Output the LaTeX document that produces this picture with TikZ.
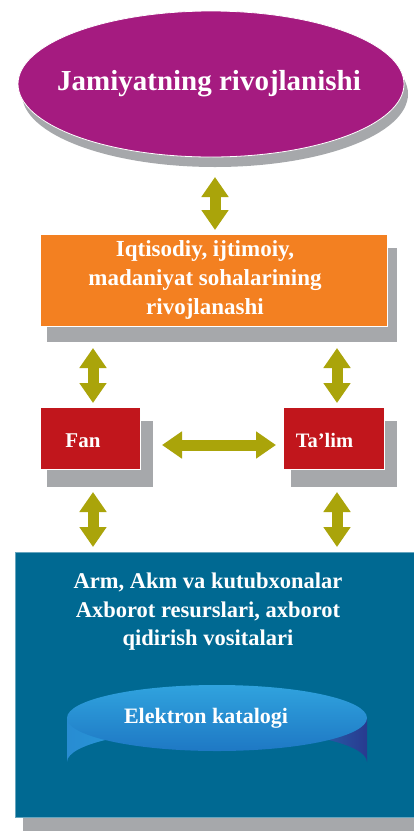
\documentclass[tikz,border=0pt]{standalone}
\usepackage{fontspec}
\setmainfont{Liberation Serif}
\usetikzlibrary{arrows.meta,shapes.geometric,calc}
\definecolor{magentaC}{RGB}{165,27,128}
\definecolor{orangeC}{RGB}{243,128,33}
\definecolor{redC}{RGB}{193,22,28}
\definecolor{blueC}{RGB}{0,105,146}
\definecolor{shadowC}{RGB}{166,168,171}
\definecolor{oliveC}{RGB}{170,164,10}
\definecolor{cylLeft}{RGB}{40,140,210}
\definecolor{cylMid}{RGB}{41,171,226}
\definecolor{cylRight}{RGB}{40,58,143}
\definecolor{cylTop}{RGB}{48,163,222}
\definecolor{cylTopB}{RGB}{30,120,196}
\tikzset{
  boxtext/.style={text=white, font=\bfseries, align=center, inner sep=0pt},
  flatbox/.style={draw=white, line width=0.6pt, minimum width=#1, inner sep=0pt},
  dbl/.style={draw=oliveC, line width=11pt,
    {Triangle[width=26pt,length=20pt]}-{Triangle[width=26pt,length=20pt]}},
}
\begin{document}
\begin{tikzpicture}[x=1pt,y=-1pt]
\useasboundingbox (0,0) rectangle (414,831);
\fill[white] (0,0) rectangle (414,831);
% top ellipse
\fill[shadowC] (215,94) ellipse [x radius=193, y radius=73];
\node[ellipse, fill=magentaC, draw=white, line width=0.8pt, minimum width=386pt, minimum height=146pt, inner sep=0pt] (top) at (211,84) {};
\node[boxtext, font=\bfseries\fontsize{29}{32}\selectfont] (toptext) at (209,84) {Jamiyatning rivojlanishi};
% orange box
\fill[shadowC] (47,248) rectangle (397,342);
\node[flatbox=347pt, fill=orangeC, minimum height=92pt] (mid) at (213.5,280) {};
\node[boxtext, font=\bfseries\fontsize{23}{29}\selectfont] (midtext) at (205,280) {Iqtisodiy, ijtimoiy,\\madaniyat sohalarining\\rivojlanashi};
% Fan / Ta'lim
\fill[shadowC] (47,421) rectangle (153,487);
\fill[shadowC] (291,421) rectangle (397,487);
\node[flatbox=100pt, fill=redC, minimum height=62pt] (fan) at (90,438) {};
\node[flatbox=101pt, fill=redC, minimum height=62pt] (talim) at (333.5,438) {};
\node[boxtext, font=\bfseries\fontsize{21}{24}\selectfont, anchor=base] (fantext) at (83,447) {Fan};
\node[boxtext, font=\bfseries\fontsize{20.5}{24}\selectfont, anchor=base] (talimtext) at (324.5,447) {Ta’lim};
% blue box
\fill[shadowC] (23,566) rectangle (414,831);
\node[flatbox=399pt, fill=blueC, minimum height=265pt, draw=blueC!60!white] (bot) at (214.5,684.5) {};
\node[boxtext, font=\bfseries\fontsize{22.5}{28.5}\selectfont] (bottext) at (208,612) {Arm, Akm va kutubxonalar\\Axborot resurslari, axborot\\qidirish vositalari};
% cylinder
\shade[left color=cylLeft, right color=cylRight, middle color=cylMid]
  (67,718) -- (67,762) arc[start angle=180, end angle=360, x radius=150, y radius=33] -- (367,718) -- cycle;
\shade[top color=cylTop, bottom color=cylTopB] (217,718) ellipse [x radius=150, y radius=33];
\node[boxtext, font=\bfseries\fontsize{22}{26}\selectfont] (cyl) at (206,718) {Elektron katalogi};
% arrows
\coordinate (a1s) at (215,177);
\coordinate (a1e) at (215,230);
\coordinate (l1s) at (93,348); \coordinate (l1e) at (93,403);
\coordinate (r1s) at (337,348); \coordinate (r1e) at (337,403);
\coordinate (l2s) at (93,492); \coordinate (l2e) at (93,547);
\coordinate (r2s) at (337,492); \coordinate (r2e) at (337,547);
\coordinate (hs) at (162,445); \coordinate (he) at (276,445);
\draw[dbl] (a1s) -- (a1e);
\draw[dbl] (l1s) -- (l1e);
\draw[dbl] (r1s) -- (r1e);
\draw[dbl] (l2s) -- (l2e);
\draw[dbl] (r2s) -- (r2e);
\draw[dbl] (hs) -- (he);
\end{tikzpicture}
\end{document}
